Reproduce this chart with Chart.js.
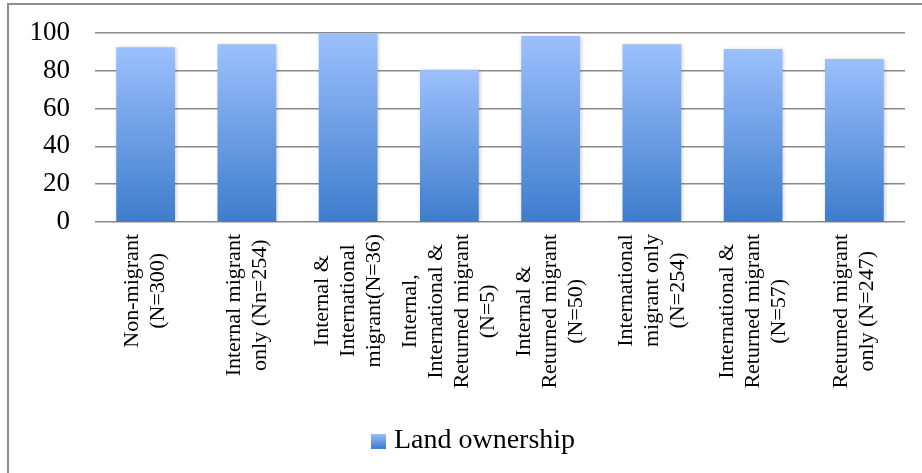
<!DOCTYPE html>
<html>
<head>
<meta charset="utf-8">
<script src="https://cdn.jsdelivr.net/npm/chart.js@4"></script>
<style>
  html, body { margin: 0; padding: 0; background: #fff; }
  #wrap { position: relative; width: 922px; height: 473px; }
</style>
</head>
<body>
<div id="wrap"><canvas id="myChart" width="922" height="473"></canvas></div>
<script>
// Land ownership by migration status (%)
let categories = [
  ["Non-migrant", "(N=300)"],
  ["Internal migrant", "only (Nn=254)"],
  ["Internal &", "International", "migrant(N=36)"],
  ["Internal,", "International &", "Returned migrant", "(N=5)"],
  ["Internal &", "Returned migrant", "(N=50)"],
  ["International", "migrant only", "(N=254)"],
  ["International &", "Returned migrant", "(N=57)"],
  ["Returned migrant", "only (N=247)"]
];
let landOwnership = [92.5, 94.1, 100, 80.5, 98.4, 94.1, 91.5, 86.2];
let yTicks = [0, 20, 40, 60, 80, 100];

const SERIF = "'Liberation Serif', 'DejaVu Serif', serif";
const TOP_COLOR = "#9cc0fd";
const BOTTOM_COLOR = "#3d7dcc";

/**
 * Vertical gradient for a bar, from its top down to the baseline
 */
function barGradient(context) {
  let chart = context.chart;
  let area = chart.chartArea;
  if (!area || context.dataIndex === undefined) return BOTTOM_COLOR;
  let y = chart.scales.y;
  let top = y.getPixelForValue(context.raw);
  let base = y.getPixelForValue(0);
  let g = chart.ctx.createLinearGradient(0, top, 0, base);
  g.addColorStop(0, TOP_COLOR);
  g.addColorStop(1, BOTTOM_COLOR);
  return g;
}

// small square for the legend, same gradient as the bars
let legendBox = document.createElement('canvas');
legendBox.width = 15;
legendBox.height = 15;
(function () {
  let c = legendBox.getContext('2d');
  let g = c.createLinearGradient(0, 0, 0, 15);
  g.addColorStop(0, TOP_COLOR);
  g.addColorStop(1, BOTTOM_COLOR);
  c.fillStyle = g;
  c.fillRect(0, 0, 15, 15);
})();

// frame along the top and left edges
const framePlugin = {
  id: 'frame',
  beforeDraw(chart) {
    let ctx = chart.ctx;
    ctx.save();
    ctx.strokeStyle = '#8e8e8e';
    ctx.lineWidth = 2;
    ctx.beginPath();
    ctx.moveTo(8, 473);
    ctx.lineTo(8, 4);
    ctx.lineTo(922, 4);
    ctx.stroke();
    ctx.restore();
  }
};

// legend sits a little right of the canvas centre
const legendShift = {
  id: 'legendShift',
  afterLayout(chart) {
    chart.legend.left += 20;
    chart.legend.right += 20;
  }
};

// soft shadow behind the bars
const shadowPlugin = {
  id: 'barShadow',
  beforeDatasetsDraw(chart) {
    let ctx = chart.ctx;
    ctx.save();
    ctx.shadowColor = 'rgba(0,0,0,0.22)';
    ctx.shadowBlur = 4;
    ctx.shadowOffsetX = 1;
    ctx.shadowOffsetY = 1;
  },
  afterDatasetsDraw(chart) {
    chart.ctx.restore();
  }
};

// rotated category labels, each line centred within its block
const xLabelPlugin = {
  id: 'xLabels',
  afterDraw(chart) {
    let ctx = chart.ctx;
    let xs = chart.scales.x;
    let top = chart.chartArea.bottom + 12;
    let lineH = 26;
    ctx.save();
    ctx.font = "22px " + SERIF;
    ctx.fillStyle = '#000';
    ctx.textAlign = 'center';
    ctx.textBaseline = 'middle';
    categories.forEach(function (lines, i) {
      let x = xs.getPixelForValue(i);
      let maxW = Math.max.apply(null, lines.map(l => ctx.measureText(l).width));
      let cy = top + maxW / 2;
      lines.forEach(function (line, j) {
        let cx = x + (j - (lines.length - 1) / 2) * lineH;
        ctx.save();
        ctx.translate(cx, cy);
        ctx.rotate(-Math.PI / 2);
        ctx.fillText(line, 0, 0);
        ctx.restore();
      });
    });
    ctx.restore();
  }
};

let ctx = document.getElementById('myChart').getContext('2d');
window.myChart = new Chart(ctx, {
  type: 'bar',
  data: {
    labels: categories,
    datasets: [{
      label: 'Land ownership',
      data: landOwnership,
      backgroundColor: barGradient,
      borderWidth: 0,
      categoryPercentage: 1,
      barPercentage: 0.58
    }]
  },
  options: {
    responsive: false,
    animation: false,
    devicePixelRatio: 1,
    layout: { padding: { top: 33, left: 8, right: 17, bottom: 8 } },
    scales: {
      x: {
        grid: { display: false },
        border: { display: false },
        ticks: { display: false },
        afterFit(scale) { scale.height = 195; }
      },
      y: {
        min: 0,
        max: 100,
        afterBuildTicks(scale) { scale.ticks = yTicks.map(v => ({ value: v })); },
        grid: { color: '#8a8a8a', lineWidth: 1.5, drawTicks: false },
        border: { display: false },
        ticks: {
          padding: 25,
          color: '#000',
          font: { family: SERIF, size: 27 }
        },
        afterFit(scale) {
          scale.width = 87;
          scale.paddingTop = 0;
          scale.paddingBottom = 0;
        }
      }
    },
    plugins: {
      legend: {
        position: 'bottom',
        labels: {
          usePointStyle: true,
          pointStyle: legendBox,
          pointStyleWidth: 2,
          color: '#000',
          padding: 10,
          font: { family: SERIF, size: 28 }
        }
      },
      tooltip: { enabled: false }
    }
  },
  plugins: [framePlugin, legendShift, shadowPlugin, xLabelPlugin]
});
</script>
</body>
</html>
